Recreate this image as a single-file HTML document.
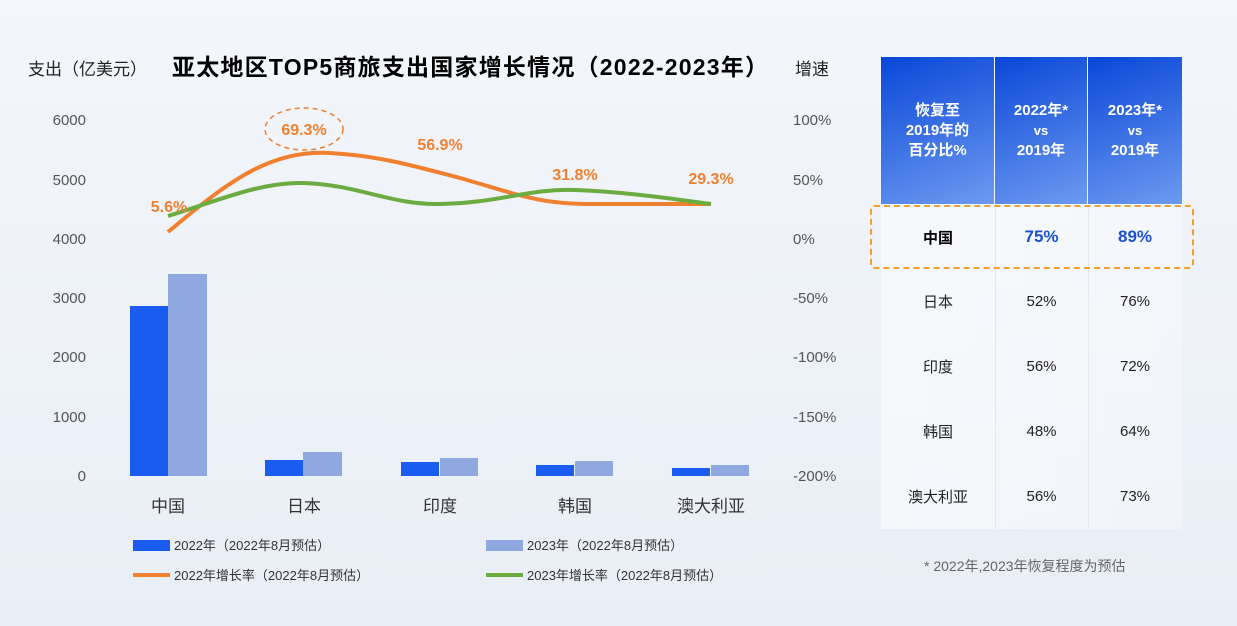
<!DOCTYPE html>
<html><head><meta charset="utf-8"><style>
body{margin:0;width:1237px;height:626px;overflow:hidden;background:linear-gradient(180deg,#f3f6fb,#e9eef6);font-family:"Liberation Sans","Noto Sans CJK SC",sans-serif;position:relative}
.a{position:absolute}
.th{position:absolute;top:57px;height:147px;color:#fff;font-weight:bold;font-size:15px;text-align:center;display:flex;align-items:center;justify-content:center;background:linear-gradient(160deg,#0a47d8,#6c9af0)}
.th div{line-height:20px}
.th small{font-size:13px}
.td{position:absolute;display:flex;align-items:center;justify-content:center;font-size:15px;color:#222}
</style></head><body>
<svg class="a" style="left:0;top:0" width="870" height="626" font-family="Liberation Sans, Noto Sans CJK SC, sans-serif">
<text x="28" y="75" font-size="17" fill="#222">支出（亿美元）</text>
<text x="172" y="75" font-size="23" font-weight="bold" fill="#000" textLength="596">亚太地区TOP5商旅支出国家增长情况（2022-2023年）</text>
<text x="795" y="75" font-size="17" fill="#222">增速</text>
<g font-size="15" fill="#555" text-anchor="end">
<text x="86" y="125">6000</text><text x="86" y="185">5000</text><text x="86" y="244">4000</text><text x="86" y="303">3000</text><text x="86" y="362">2000</text><text x="86" y="422">1000</text><text x="86" y="481">0</text></g>
<g font-size="15" fill="#555">
<text x="793" y="125">100%</text><text x="793" y="185">50%</text><text x="793" y="244">0%</text><text x="793" y="303">-50%</text><text x="793" y="362">-100%</text><text x="793" y="422">-150%</text><text x="793" y="481">-200%</text></g>
<g fill="#1a5cf0"><rect x="130" y="306" width="38" height="170"/><rect x="265" y="460" width="38" height="16"/><rect x="401" y="462" width="38" height="14"/><rect x="536" y="465" width="38" height="11"/><rect x="672" y="468" width="38" height="8"/></g>
<g fill="#8fa9e0"><rect x="168" y="274" width="39" height="202"/><rect x="303" y="452" width="39" height="24"/><rect x="440" y="458" width="38" height="18"/><rect x="575" y="461" width="38" height="15"/><rect x="711" y="465" width="38" height="11"/></g>
<g font-size="17" fill="#333" text-anchor="middle"><text x="168" y="512">中国</text><text x="304" y="512">日本</text><text x="440" y="512">印度</text><text x="575" y="512">韩国</text><text x="711" y="512">澳大利亚</text></g>
<path d="M168,232 C230,180 270,150 330,153 C380,156 410,165 460,178 C520,195 540,205 600,204 C650,204 690,204 711,204" fill="none" stroke="#f08030" stroke-width="4"/>
<path d="M168,216 C220,200 260,182 304,183 C360,185 390,205 440,204 C500,203 530,188 575,190 C630,192 680,200 711,204" fill="none" stroke="#6aac40" stroke-width="4"/>
<g font-size="16" font-weight="bold" fill="#f08030" text-anchor="middle">
<text x="169" y="212">5.6%</text><text x="304" y="135">69.3%</text><text x="440" y="150">56.9%</text><text x="575" y="180">31.8%</text><text x="711" y="184">29.3%</text></g>
<ellipse cx="304" cy="129" rx="39" ry="21" fill="none" stroke="#f08030" stroke-width="1.5" stroke-dasharray="5,4"/>
<rect x="133" y="540" width="37" height="11" fill="#1a5cf0"/><text x="174" y="550" font-size="13" fill="#333">2022年（2022年8月预估）</text>
<rect x="486" y="540" width="37" height="11" fill="#8fa9e0"/><text x="527" y="550" font-size="13" fill="#333">2023年（2022年8月预估）</text>
<rect x="133" y="573" width="37" height="4" fill="#f08030"/><text x="174" y="580" font-size="13" fill="#333">2022年增长率（2022年8月预估）</text>
<rect x="486" y="573" width="37" height="4" fill="#6aac40"/><text x="527" y="580" font-size="13" fill="#333">2023年增长率（2022年8月预估）</text>
</svg>
<div class="th" style="left:881px;width:113px"><div>恢复至<br>2019年的<br>百分比%</div></div>
<div class="th" style="left:995px;width:92px"><div>2022年*<br><small>vs</small><br>2019年</div></div>
<div class="th" style="left:1088px;width:94px"><div>2023年*<br><small>vs</small><br>2019年</div></div>
<div class="a" style="left:881px;top:204px;width:301px;height:325px;background:linear-gradient(90deg,rgba(255,255,255,.5),rgba(255,255,255,.3))"></div>
<div class="a" style="left:995px;top:204px;width:1px;height:325px;background:#e3e8f0"></div>
<div class="a" style="left:1088px;top:204px;width:1px;height:325px;background:#e3e8f0"></div>
<div class="a" style="left:870px;top:205px;width:320px;height:60px;border:2px dashed #f0a030;border-radius:4px"></div>
<div class="td" style="left:881px;top:204px;width:114px;height:66px;font-weight:bold;color:#000">中国</div>
<div class="td" style="left:995px;top:204px;width:93px;height:66px;font-weight:bold;color:#1a4fd0;font-size:17px">75%</div>
<div class="td" style="left:1088px;top:204px;width:94px;height:66px;font-weight:bold;color:#1a4fd0;font-size:17px">89%</div>
<div class="td" style="left:881px;top:268px;width:114px;height:66px">日本</div><div class="td" style="left:995px;top:268px;width:93px;height:66px">52%</div><div class="td" style="left:1088px;top:268px;width:94px;height:66px">76%</div>
<div class="td" style="left:881px;top:334px;width:114px;height:65px">印度</div><div class="td" style="left:995px;top:334px;width:93px;height:65px">56%</div><div class="td" style="left:1088px;top:334px;width:94px;height:65px">72%</div>
<div class="td" style="left:881px;top:399px;width:114px;height:65px">韩国</div><div class="td" style="left:995px;top:399px;width:93px;height:65px">48%</div><div class="td" style="left:1088px;top:399px;width:94px;height:65px">64%</div>
<div class="td" style="left:881px;top:464px;width:114px;height:65px">澳大利亚</div><div class="td" style="left:995px;top:464px;width:93px;height:65px">56%</div><div class="td" style="left:1088px;top:464px;width:94px;height:65px">73%</div>
<div class="a" style="left:924px;top:556px;font-size:14px;color:#666">* 2022年,2023年恢复程度为预估</div>
</body></html>
